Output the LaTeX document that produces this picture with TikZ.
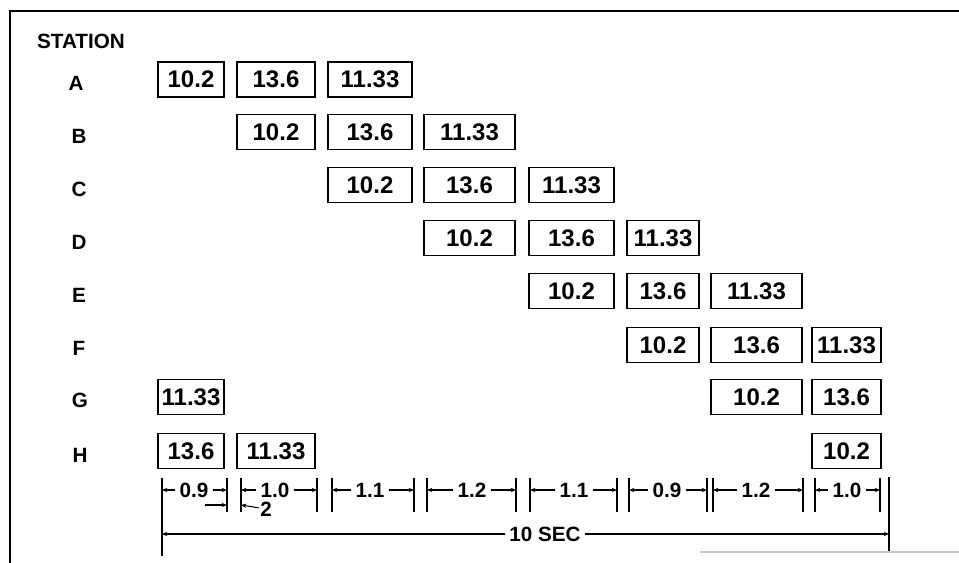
\documentclass[tikz,border=0pt]{standalone}
\usepackage{fontspec}
\setmainfont{Liberation Sans}
\usetikzlibrary{arrows.meta}

\begin{document}
\begin{tikzpicture}[x=0.75pt,y=0.75pt,yscale=-1,xscale=1,
    numbox/.style={draw,line width=1.1pt,minimum height=26pt,inner sep=0pt,font=\fontsize{18}{18}\selectfont\bfseries},
    stn/.style={font=\fontsize{15.5}{16}\selectfont\bfseries,inner sep=0pt},
    dimtxt/.style={font=\fontsize{15.5}{16}\selectfont\bfseries,inner sep=3pt},
    dimarr/.style={-{Stealth[length=4pt,width=3.2pt]},line width=0.8pt},
    dimtick/.style={line width=1pt},
    w1/.style={minimum width=49.5pt},
    w2/.style={minimum width=58.5pt},
    w3/.style={minimum width=63pt},
    w4/.style={minimum width=68.25pt},
    w5/.style={minimum width=63.75pt},
    w6/.style={minimum width=54pt},
    w7/.style={minimum width=68.25pt},
    w8/.style={minimum width=51.75pt}]
    \useasboundingbox (0,0) rectangle (959,563);
    
    %Frame
    \draw [line width=1.2pt] (10,563) -- (10,11) -- (959,11) ;
    \draw [color=gray!45, line width=0.8pt] (700,552) -- (959,552) ;
    
    % Station labels
    \node [stn] (station) at (81,41) {STATION};
    \node [stn] (la) at (76,83) {A};
    \node [stn] (lb) at (79,136) {B};
    \node [stn] (lc) at (79,189) {C};
    \node [stn] (ld) at (79,242) {D};
    \node [stn] (le) at (79,295) {E};
    \node [stn] (lf) at (79,348) {F};
    \node [stn] (lg) at (80,400) {G};
    \node [stn] (lh) at (80,455) {H};
    
    % Row A
    \node [numbox,w1] (a1) at (191,79.5) {10.2};
    \node [numbox,w2] (a2) at (276,79.5) {13.6};
    \node [numbox,w3] (a3) at (370,79.5) {11.33};
    % Row B
    \node [numbox,w2] (b2) at (276,132) {10.2};
    \node [numbox,w3] (b3) at (370,132) {13.6};
    \node [numbox,w4] (b4) at (469.5,132) {11.33};
    % Row C
    \node [numbox,w3] (c3) at (370,185) {10.2};
    \node [numbox,w4] (c4) at (469.5,185) {13.6};
    \node [numbox,w5] (c5) at (571.5,185) {11.33};
    % Row D
    \node [numbox,w4] (d4) at (469.5,238) {10.2};
    \node [numbox,w5] (d5) at (571.5,238) {13.6};
    \node [numbox,w6] (d6) at (663,238) {11.33};
    % Row E
    \node [numbox,w5] (e5) at (571.5,291) {10.2};
    \node [numbox,w6] (e6) at (663,291) {13.6};
    \node [numbox,w7] (e7) at (756.5,291) {11.33};
    % Row F
    \node [numbox,w6] (f6) at (663,345) {10.2};
    \node [numbox,w7] (f7) at (756.5,345) {13.6};
    \node [numbox,w8] (f8) at (846.5,345) {11.33};
    % Row G
    \node [numbox,w1] (g1) at (191,397) {11.33};
    \node [numbox,w7] (g7) at (756.5,397) {10.2};
    \node [numbox,w8] (g8) at (846.5,397) {13.6};
    % Row H
    \node [numbox,w1] (h1) at (191,451) {13.6};
    \node [numbox,w2] (h2) at (276,451) {11.33};
    \node [numbox,w8] (h8) at (846.5,451) {10.2};
    
    % Dimension 0.9
    \coordinate (L1) at (162,490); \coordinate (R1) at (227,490);
    \node [dimtxt] (s1) at (194,490) {0.9};
    \draw [dimarr] (s1) -- (L1); \draw [dimarr] (s1) -- (R1);
    \draw [dimtick] (L1)+(0,-12) -- +(0,66); \draw [dimtick] (R1)+(0,-12) -- +(0,22);
    % Dimension 1.0
    \coordinate (L2) at (241,490); \coordinate (R2) at (317,490);
    \node [dimtxt] (s2) at (275,490) {1.0};
    \draw [dimarr] (s2) -- (L2); \draw [dimarr] (s2) -- (R2);
    \draw [dimtick] (L2)+(0,-12) -- +(0,22); \draw [dimtick] (R2)+(0,-12) -- +(0,22);
    % gap between 0.9 and 1.0
    \coordinate (gapin) at (205,505); \coordinate (gapl) at (227,505); \coordinate (gapr) at (241,505);
    \node [dimtxt, inner sep=1pt] (gap) at (266,509) {2};
    \draw [dimarr] (gapin) -- (gapl); \draw [dimarr] (gap) -- (gapr);
    % Dimension 1.1
    \coordinate (L3) at (332,490); \coordinate (R3) at (414,490);
    \node [dimtxt] (s3) at (370,490) {1.1};
    \draw [dimarr] (s3) -- (L3); \draw [dimarr] (s3) -- (R3);
    \draw [dimtick] (L3)+(0,-12) -- +(0,22); \draw [dimtick] (R3)+(0,-12) -- +(0,22);
    % Dimension 1.2
    \coordinate (L4) at (427,490); \coordinate (R4) at (516,490);
    \node [dimtxt] (s4) at (472,490) {1.2};
    \draw [dimarr] (s4) -- (L4); \draw [dimarr] (s4) -- (R4);
    \draw [dimtick] (L4)+(0,-12) -- +(0,22); \draw [dimtick] (R4)+(0,-12) -- +(0,22);
    % Dimension 1.1
    \coordinate (L5) at (530,490); \coordinate (R5) at (617,490);
    \node [dimtxt] (s5) at (574,490) {1.1};
    \draw [dimarr] (s5) -- (L5); \draw [dimarr] (s5) -- (R5);
    \draw [dimtick] (L5)+(0,-12) -- +(0,22); \draw [dimtick] (R5)+(0,-12) -- +(0,22);
    % Dimension 0.9
    \coordinate (L6) at (629,490); \coordinate (R6) at (707,490);
    \node [dimtxt] (s6) at (667,490) {0.9};
    \draw [dimarr] (s6) -- (L6); \draw [dimarr] (s6) -- (R6);
    \draw [dimtick] (L6)+(0,-12) -- +(0,22); \draw [dimtick] (R6)+(0,-12) -- +(0,22);
    % Dimension 1.2
    \coordinate (L7) at (713,490); \coordinate (R7) at (803,490);
    \node [dimtxt] (s7) at (756,490) {1.2};
    \draw [dimarr] (s7) -- (L7); \draw [dimarr] (s7) -- (R7);
    \draw [dimtick] (L7)+(0,-12) -- +(0,22); \draw [dimtick] (R7)+(0,-12) -- +(0,22);
    % Dimension 1.0
    \coordinate (L8) at (815,490); \coordinate (R8) at (880,490);
    \node [dimtxt] (s8) at (847,490) {1.0};
    \draw [dimarr] (s8) -- (L8); \draw [dimarr] (s8) -- (R8);
    \draw [dimtick] (L8)+(0,-12) -- +(0,22); \draw [dimtick] (R8)+(0,-12) -- +(0,22);
    
    % Total 10 SEC
    \coordinate (T0) at (162,534); \coordinate (T1) at (889,534);
    \node [dimtxt] (total) at (545,534) {10 SEC};
    \draw [dimarr] (total) -- (T0); \draw [dimarr] (total) -- (T1);
    \draw [dimtick] (T1)+(0,-57) -- +(0,17);
    
\end{tikzpicture}
\end{document}
